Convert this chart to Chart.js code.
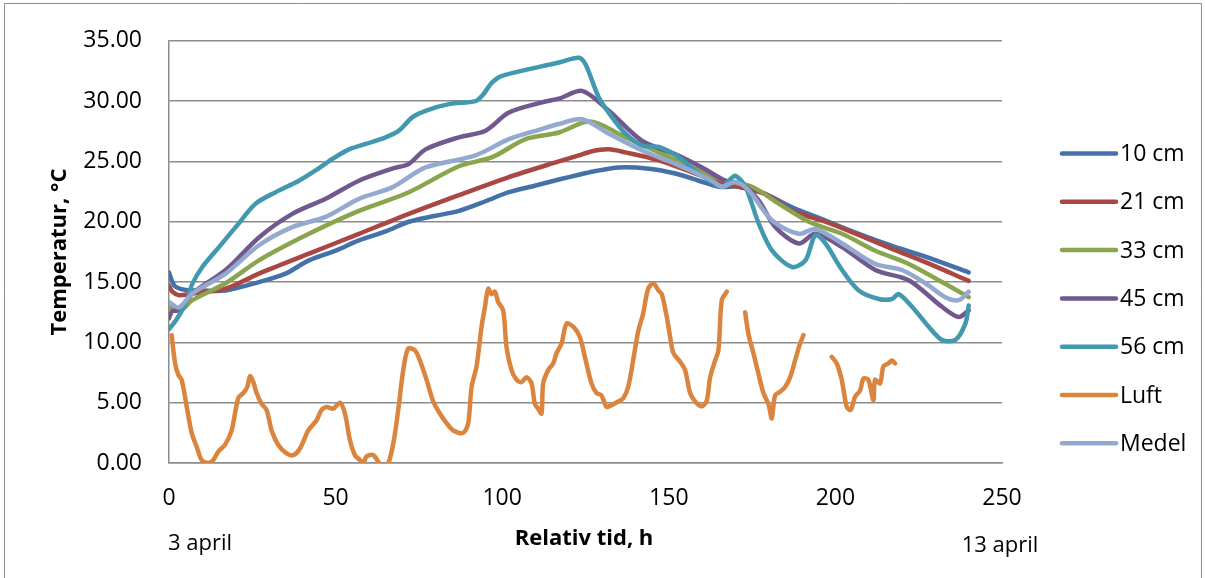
<!DOCTYPE html>
<html>
<head>
<meta charset="utf-8">
<script src="https://cdn.jsdelivr.net/npm/chart.js@4/dist/chart.umd.min.js"></script>
<style>
  html, body { margin: 0; padding: 0; background: #fff; }
  #wrap { position: relative; width: 1205px; height: 578px; }
</style>
</head>
<body>
<div id="wrap"><canvas id="tempChart" width="1205" height="578"></canvas></div>
<script>
// series labels and colours
var seriesLabels = ["10 cm", "21 cm", "33 cm", "45 cm", "56 cm", "Luft", "Medel"];
var seriesColors = ["#4571AA", "#AA4643", "#89A54E", "#71588F", "#4198AF", "#DB843D", "#93A9CF"];
var yTicks = [0, 5, 10, 15, 20, 25, 30, 35];
var xTicks = [0, 50, 100, 150, 200, 250];

// hours and temperatures per series
var h10 = [0, 1, 2, 5, 10, 17, 27, 35, 42, 50, 57, 65, 72, 80, 87, 95, 102, 110, 117, 123, 127, 135, 144, 152, 159, 165, 171, 179, 187, 197, 207, 217, 227, 240];
var t10 = [15.8, 15.0, 14.6, 14.35, 14.3, 14.3, 15.0, 15.7, 16.8, 17.6, 18.45, 19.2, 20.0, 20.5, 20.9, 21.7, 22.45, 23.0, 23.5, 23.9, 24.15, 24.5, 24.4, 24.0, 23.4, 22.9, 22.9, 22.3, 21.2, 20.1, 19.0, 18.0, 17.1, 15.8];

var h21 = [0, 1, 3, 7, 17, 27, 42, 57, 72, 87, 102, 117, 123, 127, 132, 137, 147, 157, 165, 171, 179, 187, 197, 207, 217, 227, 240];
var t21 = [14.7, 14.2, 13.9, 14.05, 14.45, 15.7, 17.35, 19.0, 20.65, 22.2, 23.7, 25.0, 25.5, 25.85, 26.0, 25.75, 25.1, 24.1, 23.3, 22.9, 22.3, 20.9, 20.0, 18.9, 17.75, 16.65, 15.1];

var h33 = [0, 4, 7, 17, 27, 42, 57, 72, 87, 97, 107, 117, 123, 126, 130, 137, 147, 157, 167, 175, 183, 192, 202, 212, 222, 232, 240];
var t33 = [12.9, 12.8, 13.5, 14.9, 16.8, 19.0, 20.9, 22.45, 24.6, 25.35, 26.85, 27.4, 28.1, 28.3, 28.0, 27.0, 25.75, 24.5, 23.4, 22.9, 21.5, 20.0, 19.0, 17.6, 16.5, 15.0, 13.75];

var h45 = [0, 1, 3, 7, 17, 27, 37, 47, 57, 67, 72, 77, 87, 95, 102, 112, 117, 124, 132, 142, 152, 160, 167, 172, 177, 182, 189, 194, 202, 212, 222, 232, 237, 240];
var t45 = [12.0, 12.6, 12.65, 14.05, 16.0, 18.7, 20.65, 21.9, 23.4, 24.4, 24.8, 26.0, 27.0, 27.55, 29.05, 29.9, 30.2, 30.85, 29.2, 26.7, 25.6, 24.5, 23.4, 23.15, 21.75, 19.55, 18.2, 19.0, 17.9, 16.0, 15.15, 12.95, 12.1, 12.65];

var h56 = [0, 2, 5, 7, 10, 15, 20, 26, 32, 39, 44, 49, 54, 59, 65, 69, 73, 77, 84, 92, 94, 97, 100, 117, 123, 125, 129, 133, 137, 142, 147, 153, 159, 166, 168, 170, 173, 177, 181, 187, 191, 194, 197, 202, 207, 213, 217, 219, 223, 228, 232, 236, 239, 240];
var t56 = [11.1, 11.8, 13.2, 14.85, 16.25, 17.9, 19.55, 21.5, 22.45, 23.4, 24.25, 25.2, 26.0, 26.45, 27.0, 27.55, 28.65, 29.2, 29.75, 30.0, 30.45, 31.55, 32.1, 33.2, 33.6, 33.05, 30.3, 28.65, 27.3, 26.3, 26.2, 25.35, 24.0, 22.9, 23.4, 23.8, 22.9, 19.85, 17.6, 16.25, 16.8, 18.9, 18.2, 16.0, 14.3, 13.6, 13.6, 14.0, 12.95, 11.3, 10.2, 10.2, 11.55, 13.05];

var hLuft = [0.8, 1.8, 2.8, 3.8, 5.3, 6.8, 8.3, 9.8, 11.8, 13.3, 14.8, 16.8, 18.8, 20.8, 22.3, 23.5, 24.3, 25.3, 26.3, 27.8, 29.3, 30.8, 32.8, 35.3, 37.3, 39.3, 41.8, 44.3, 45.8, 47.3, 49.3, 51.3, 52.8, 54.3, 55.8, 57.3, 58.3, 59.3, 61.3, 62.8, 64, 65.5, 67.3, 68.8, 70.3, 71.8, 73.8, 75.3, 77.3, 79.3, 81.3, 83.3, 85.3, 88.3, 89.8, 90.8, 92.3, 93.8, 94.8, 95.8, 96.8, 97.8, 98.8, 100.3, 101.3, 102.8, 104.3, 105.8, 107.3, 108.8, 109.8, 110.8, 111.8, 112.3, 113.8, 115.3, 116.3, 117.8, 119.3, 121.3, 123.3, 124.8, 126.8, 128.3, 129.8, 131.3, 132.8, 134.8, 136.3, 137.8, 139.3, 140.8, 142.3, 143.8, 145.4, 146.9, 147.9, 149.4, 150.4, 151.4, 153.4, 154.9, 156.4, 157.9, 159.9, 161.4, 162.4, 163.9, 164.9, 165.9, 167.4, 170, 172.9, 173.9, 175.4, 176.9, 178.4, 179.9, 180.9, 181.9, 183.4, 184.9, 186.4, 187.9, 189.4, 190.4, 195, 198.9, 200.4, 201.9, 203.4, 204.6, 205.9, 207.4, 208.4, 209.9, 211.4, 211.9, 213.4, 214.4, 215.9, 217.0, 217.9];
var tLuft = [10.6, 8.3, 7.3, 6.9, 4.7, 2.5, 1.35, 0.25, 0.0, 0.25, 0.95, 1.5, 2.7, 5.4, 5.8, 6.3, 7.2, 6.7, 5.8, 4.9, 4.4, 2.7, 1.5, 0.8, 0.65, 1.2, 2.7, 3.55, 4.4, 4.65, 4.5, 5.0, 4.1, 1.9, 0.65, 0.25, 0.0, 0.55, 0.65, 0.1, -0.5, -0.3, 1.6, 4.4, 7.7, 9.5, 9.35, 8.5, 6.9, 5.1, 4.1, 3.3, 2.7, 2.5, 3.3, 6.3, 8.0, 11.3, 12.9, 14.45, 14.0, 14.2, 13.35, 12.65, 9.6, 7.7, 6.9, 6.7, 7.1, 6.6, 4.9, 4.5, 4.1, 6.6, 7.7, 8.25, 9.1, 9.9, 11.55, 11.3, 10.45, 8.8, 6.6, 5.8, 5.6, 4.65, 4.8, 5.1, 5.35, 6.3, 8.5, 10.9, 12.4, 14.45, 14.9, 14.3, 14.0, 12.1, 10.45, 9.1, 8.4, 7.7, 5.8, 5.1, 4.7, 5.2, 7.1, 8.5, 9.35, 13.5, 14.2, null, 12.5, 10.7, 9.1, 7.4, 5.8, 4.9, 3.7, 5.6, 5.9, 6.3, 7.1, 8.5, 9.9, 10.6, null, 8.8, 8.25, 6.9, 4.65, 4.4, 5.5, 6.0, 7.0, 6.9, 5.2, 6.9, 6.6, 8.0, 8.25, 8.5, 8.25];

var hMedel = [0, 3, 7, 17, 27, 37, 47, 57, 67, 77, 92, 102, 112, 117, 124, 132, 142, 152, 163, 166, 170, 174, 181, 189, 194, 202, 212, 220, 227, 233, 237, 240];
var tMedel = [13.35, 12.9, 14.05, 15.7, 18.05, 19.55, 20.4, 21.9, 22.85, 24.5, 25.5, 26.85, 27.7, 28.1, 28.5, 27.3, 25.9, 24.8, 23.4, 22.9, 23.3, 22.6, 20.1, 19.0, 19.4, 18.2, 16.5, 16.0, 14.9, 13.75, 13.5, 14.2];

var allHours = [h10, h21, h33, h45, h56, hLuft, hMedel];
var allTemps = [t10, t21, t33, t45, t56, tLuft, tMedel];

function pairs(hs, ts) {
  var out = [];
  for (var i = 0; i < hs.length; i++) {
    out.push({ x: hs[i], y: ts[i] });
  }
  return out;
}

var datasets = [];
for (var i = 0; i < seriesLabels.length; i++) {
  datasets.push({
    label: seriesLabels[i],
    data: pairs(allHours[i], allTemps[i]),
    borderColor: seriesColors[i],
    backgroundColor: seriesColors[i],
    borderWidth: 4.5,
    borderCapStyle: 'round',
    borderJoinStyle: 'round',
    pointRadius: 0,
    tension: 0.3,
    spanGaps: false,
    order: seriesLabels.length - i  // later series on top, like Excel
  });
}

var FONT = "'Open Sans', sans-serif";

// legend + free texts
var extras = {
  id: 'extras',
  afterDraw: function(chart) {
    var ctx = chart.ctx;
    ctx.save();
    // frame
    ctx.strokeStyle = '#8c8c8c';
    ctx.lineWidth = 1;
    ctx.beginPath();
    ctx.moveTo(4.5, 578);
    ctx.lineTo(4.5, 3.5);
    ctx.lineTo(1201.5, 3.5);
    ctx.lineTo(1201.5, 578);
    ctx.stroke();

    // legend
    ctx.font = "23px " + FONT;
    ctx.textBaseline = 'middle';
    ctx.textAlign = 'left';
    chart.data.datasets.forEach(function(ds, i) {
      var y = 153.5 + i * 48.3;
      ctx.strokeStyle = ds.borderColor;
      ctx.lineWidth = 4.5;
      ctx.lineCap = 'round';
      ctx.beginPath();
      ctx.moveTo(1062, y);
      ctx.lineTo(1116, y);
      ctx.stroke();
      ctx.fillStyle = '#000';
      ctx.fillText(ds.label, 1120, y + 1);
    });

    // axis titles
    ctx.fillStyle = '#000';
    ctx.font = "bold 22px " + FONT;
    ctx.textAlign = 'center';
    ctx.fillText("Relativ tid, h", 584, 539);
    ctx.save();
    ctx.translate(60, 252);
    ctx.rotate(-Math.PI / 2);
    ctx.fillText("Temperatur, °C", 0, 0);
    ctx.restore();

    ctx.font = "22px " + FONT;
    ctx.fillText("3 april", 200, 544);
    ctx.fillText("13 april", 1000, 546);
    ctx.restore();
  }
};

var ctx = document.getElementById("tempChart").getContext("2d");
new Chart(ctx, {
  type: 'line',
  data: { datasets: datasets },
  options: {
    responsive: false,
    animation: false,
    devicePixelRatio: 1,
    layout: { padding: { left: 0, top: 40, right: 203, bottom: 0 } },
    plugins: {
      legend: { display: false },
      tooltip: { enabled: false }
    },
    scales: {
      x: {
        type: 'linear',
        min: 0,
        max: 250,
        afterFit: function(scale) { scale.height = 115; },
        afterBuildTicks: function(scale) {
          scale.ticks = xTicks.map(function(v) { return { value: v }; });
        },
        grid: { display: false, drawTicks: false },
        border: { display: true, color: '#8c8c8c', width: 1.5 },
        ticks: {
          padding: 22,
          color: '#000',
          font: { family: FONT, size: 23 },
          maxRotation: 0
        }
      },
      y: {
        min: 0,
        max: 35,
        afterFit: function(scale) { scale.width = 169; },
        afterBuildTicks: function(scale) {
          scale.ticks = yTicks.map(function(v) { return { value: v }; });
        },
        grid: { color: '#8c8c8c', lineWidth: 1.5, drawTicks: false },
        border: { display: true, color: '#8c8c8c', width: 1.5 },
        ticks: {
          padding: 27,
          color: '#000',
          font: { family: FONT, size: 23 },
          callback: function(v) { return Number(v).toFixed(2); }
        }
      }
    }
  },
  plugins: [extras]
});
</script>
</body>
</html>
